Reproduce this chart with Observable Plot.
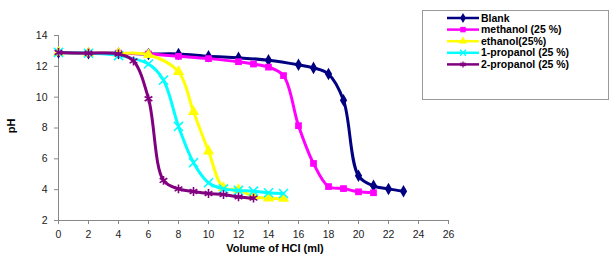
<!DOCTYPE html>
<html><head><meta charset="utf-8">
<script src="https://cdn.jsdelivr.net/npm/d3@7"></script>
<script src="https://cdn.jsdelivr.net/npm/@observablehq/plot@0.6"></script>
<style>body{margin:0;background:#fff} svg{display:block;font-family:Arial,"Liberation Sans",sans-serif}</style>
</head><body><div id="chart"></div>
<script>
// ---- data ----
const seriesNames = ["Blank", "methanol (25 %)", "ethanol(25%)", "1-propanol (25 %)", "2-propanol (25 %)"];
const seriesColors = ["#000080", "#FF00FF", "#FFFF00", "#00FFFF", "#800080"];
const seriesSymbols = ["diamond", "square", "triangle", "times", "asterisk"];

const blankX = [0, 2, 4, 6, 8, 10, 12, 14, 16, 17, 18, 19, 20, 21, 22, 23];
const blankPH = [12.9, 12.85, 12.85, 12.8, 12.8, 12.65, 12.55, 12.4, 12.1, 11.9, 11.5, 9.8, 4.9, 4.25, 4.05, 3.9];

const methanolX = [0, 2, 4, 6, 8, 10, 12, 13, 14, 15, 16, 17, 18, 19, 20, 21];
const methanolPH = [12.9, 12.85, 12.85, 12.8, 12.65, 12.5, 12.3, 12.15, 11.95, 11.4, 8.15, 5.7, 4.2, 4.07, 3.86, 3.8];

const ethanolX = [0, 2, 4, 6, 8, 9, 10, 11, 12, 13, 14, 15];
const ethanolPH = [12.9, 12.85, 12.85, 12.75, 11.65, 9.05, 6.5, 4.12, 4.0, 3.55, 3.45, 3.43];

const propanol1X = [0, 2, 4, 6, 7, 8, 9, 10, 11, 12, 13, 14, 15];
const propanol1PH = [12.9, 12.85, 12.7, 12.15, 11.1, 8.1, 5.75, 4.45, 4.05, 3.95, 3.9, 3.8, 3.75];

const propanol2X = [0, 2, 4, 5, 6, 7, 8, 9, 10, 11, 12, 13];
const propanol2PH = [12.9, 12.85, 12.8, 12.35, 9.9, 4.6, 4.05, 3.88, 3.75, 3.68, 3.53, 3.45];

const xTicks = [0, 2, 4, 6, 8, 10, 12, 14, 16, 18, 20, 22, 24, 26];
const yTicks = [2, 4, 6, 8, 10, 12, 14];

const xs = [blankX, methanolX, ethanolX, propanol1X, propanol2X];
const ys = [blankPH, methanolPH, ethanolPH, propanol1PH, propanol2PH];

const series = seriesNames.map((name, i) => ({
  name, color: seriesColors[i], symbol: seriesSymbols[i],
  data: xs[i].map((x, j) => ({x, y: ys[i][j]}))
}));

const marks = [
  Plot.ruleX([0], {stroke: "#888", strokeWidth: 1}),
  Plot.ruleY([2], {stroke: "#888", strokeWidth: 1}),
  Plot.axisX({ticks: xTicks, tickSize: 4, tickPadding: 6, stroke: "#888", fill: "#222", fontSize: 10.5, label: null}),
  Plot.axisY({ticks: yTicks, tickSize: 4, tickPadding: 7, stroke: "#888", fill: "#222", fontSize: 10.5, label: null}),
];
for (const s of series) {
  marks.push(Plot.line(s.data, {x: "x", y: "y", stroke: s.color, strokeWidth: 3, curve: "catmull-rom"}));
  const stroked = s.symbol === "times" || s.symbol === "asterisk";
  marks.push(Plot.dot(s.data, stroked
    ? {x: "x", y: "y", symbol: () => s.symbol, r: 4.2, stroke: s.color, strokeWidth: 1.6, fill: "none"}
    : {x: "x", y: "y", symbol: () => s.symbol, r: s.symbol === "triangle" ? 4.2 : 3.8, fill: s.color, stroke: "none"}));
}

const chart = Plot.plot({
  width: 613, height: 276,
  marginLeft: 58, marginRight: 165, marginTop: 35, marginBottom: 56,
  style: {fontFamily: 'Arial, "Liberation Sans", sans-serif', background: "#fff"},
  x: {domain: [0, 26]},
  y: {domain: [2, 14]},
  symbol: {type: "identity"},
  marks
});
document.getElementById("chart").appendChild(chart);

// axis titles and legend
const svg = d3.select(chart);
svg.append("text").attr("x", 275).attr("y", 252).attr("text-anchor", "middle")
  .attr("font-weight", "bold").attr("font-size", 11).attr("fill", "#000").text("Volume of HCI (ml)");
svg.append("text").attr("transform", "translate(15,126) rotate(-90)").attr("text-anchor", "middle")
  .attr("font-weight", "bold").attr("font-size", 11).attr("fill", "#000").text("pH");

const lg = svg.append("g");
lg.append("rect").attr("x", 422.5).attr("y", 10.5).attr("width", 186).attr("height", 89)
  .attr("fill", "#fff").attr("stroke", "#999");
series.forEach((s, i) => {
  const cy = 18 + i * 11.6;
  lg.append("line").attr("x1", 447).attr("x2", 479).attr("y1", cy).attr("y2", cy)
    .attr("stroke", s.color).attr("stroke-width", 2.5);
  const stroked = s.symbol === "times" || s.symbol === "asterisk";
  const symType = {diamond: d3.symbolDiamond, square: d3.symbolSquare, triangle: d3.symbolTriangle, times: d3.symbolTimes, asterisk: d3.symbolAsterisk}[s.symbol];
  lg.append("path").attr("transform", `translate(463,${cy})`)
    .attr("d", d3.symbol(symType, stroked ? 25 : 30)())
    .attr("fill", stroked ? "none" : s.color).attr("stroke", stroked ? s.color : "none").attr("stroke-width", 1.3);
  lg.append("text").attr("x", 481).attr("y", cy).attr("dy", "0.35em").attr("text-anchor", "start")
    .attr("font-weight", "bold").attr("font-size", 10.5).attr("fill", "#000").text(s.name);
});
</script></body></html>
